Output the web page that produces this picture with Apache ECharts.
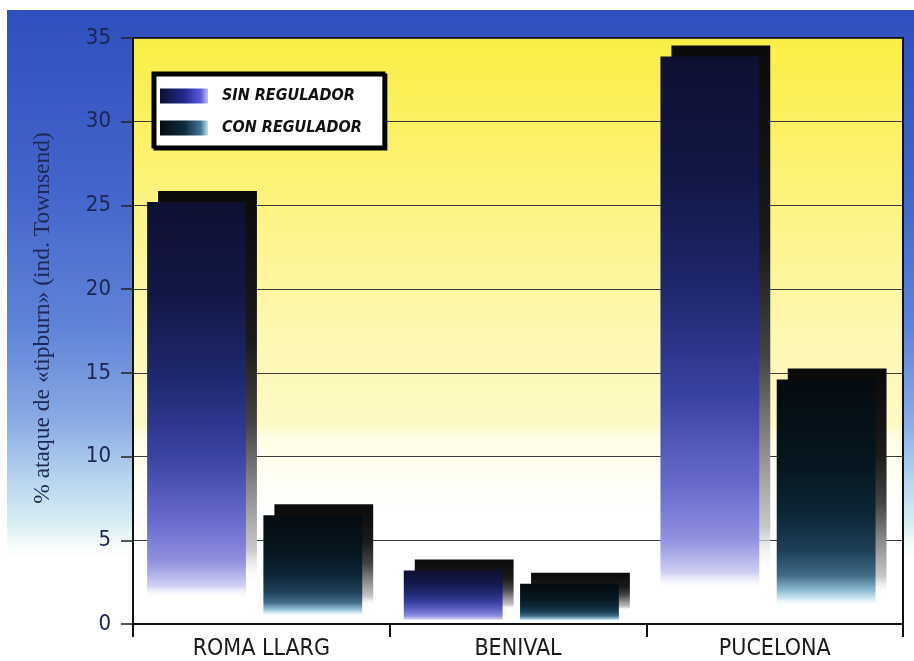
<!DOCTYPE html>
<html>
<head>
<meta charset="utf-8">
<script src="https://cdn.jsdelivr.net/npm/echarts@6/dist/echarts.min.js"></script>
<style>
  html, body { margin: 0; padding: 0; background: #ffffff; }
  #chart { width: 914px; height: 661px; }
</style>
</head>
<body>
<div id="chart"></div>
<script>
// Tipburn attack (Townsend index) per lettuce variety, with and without regulator
const categories = ['ROMA LLARG', 'BENIVAL', 'PUCELONA'];
const sinRegulador = [25.2, 3.2, 33.9];
const conRegulador = [6.5, 2.4, 14.6];
const yMin = 0;
const yMax = 35;
const yInterval = 5;

const NARROW = '"Liberation Sans Narrow", "Arial Narrow", "DejaVu Sans Condensed", sans-serif';
const SERIF = '"Liberation Serif", "Times New Roman", "DejaVu Serif", serif';

// bar geometry, as fractions of the category band
const FACE_W = 0.385;
const SLOT_SIN = 0.055;
const SLOT_CON = 0.508;
const DEPTH = 11; // pixel offset of the back face

const sinFace = [
  [0, '#0e1032'], [0.22, '#121846'], [0.42, '#1f2870'], [0.6, '#3a42a2'],
  [0.76, '#6a6ccc'], [0.85, '#9090e0'], [0.91, '#d0d0f4'], [0.94, 'rgba(255,255,255,0)'], [1, 'rgba(255,255,255,0)']
];
const conFace = [
  [0, '#050b10'], [0.35, '#061620'], [0.55, '#0c2636'], [0.7, '#1e4058'],
  [0.8, '#3f6a86'], [0.86, '#8ab8d0'], [0.9, '#d8eef6'], [0.93, 'rgba(255,255,255,0)'], [1, 'rgba(255,255,255,0)']
];
const backFace = [
  [0, '#0a0a0a'], [0.35, '#1a1a1a'], [0.55, '#444444'], [0.7, '#888888'],
  [0.85, '#c8c8c8'], [0.93, 'rgba(255,255,255,0)'], [1, 'rgba(255,255,255,0)']
];

function vGrad(stops) {
  return new echarts.graphic.LinearGradient(0, 0, 0, 1,
    stops.map(function (s) { return { offset: s[0], color: s[1] }; }));
}

function barRenderer(slot, faceStops) {
  return function (params, api) {
    const ci = api.value(0);
    const v = api.value(1);
    const band = api.size([1, 0])[0];
    const basePt = api.coord([ci, 0]);
    const topPt = api.coord([ci, v]);
    const x0 = basePt[0] - band / 2 + band * slot;
    const w = band * FACE_W;
    const h = basePt[1] - topPt[1];
    return {
      type: 'group',
      children: [
        {
          type: 'rect',
          shape: { x: x0 + DEPTH, y: topPt[1] - DEPTH, width: w, height: h },
          style: { fill: vGrad(backFace) }
        },
        {
          type: 'rect',
          shape: { x: x0, y: topPt[1], width: w, height: h },
          style: { fill: vGrad(faceStops) }
        }
      ]
    };
  };
}

function toPoints(values) {
  return values.map(function (v, i) { return [i, v]; });
}

const chart = echarts.init(document.getElementById('chart'), null, { renderer: 'canvas' });

chart.setOption({
  animation: false,
  backgroundColor: '#ffffff',
  graphic: [{
    type: 'rect',
    z: -10,
    silent: true,
    shape: { x: 7, y: 10, width: 907, height: 651 },
    style: {
      fill: new echarts.graphic.LinearGradient(0, 0, 0, 1, [
        { offset: 0, color: '#2f4fbe' },
        { offset: 0.29, color: '#4566cc' },
        { offset: 0.49, color: '#6084d8' },
        { offset: 0.63, color: '#8aaae4' },
        { offset: 0.72, color: '#b6d4ee' },
        { offset: 0.79, color: '#d8eff2' },
        { offset: 0.82, color: '#f4fbfb' },
        { offset: 0.84, color: '#ffffff' },
        { offset: 1, color: '#ffffff' }
      ])
    }
  }],
  grid: {
    left: 133, right: 11, top: 38, bottom: 34,
    show: true,
    borderColor: '#111111',
    borderWidth: 2,
    backgroundColor: new echarts.graphic.LinearGradient(0, 0, 0, 1, [
      { offset: 0, color: '#faee45' },
      { offset: 0.15, color: '#fcf162' },
      { offset: 0.35, color: '#fdf590' },
      { offset: 0.5, color: '#fdf8b0' },
      { offset: 0.66, color: '#fdf9c4' },
      { offset: 0.68, color: '#fefde4' },
      { offset: 0.8, color: '#ffffff' },
      { offset: 1, color: '#ffffff' }
    ])
  },
  legend: {
    orient: 'vertical',
    left: 153,
    top: 73,
    padding: [15, 22, 11, 7],
    itemGap: 16,
    itemWidth: 48,
    itemHeight: 15,
    icon: 'rect',
    backgroundColor: '#ffffff',
    borderColor: '#000000',
    borderWidth: 3,
    shadowColor: '#000000',
    shadowBlur: 0,
    shadowOffsetX: 2,
    shadowOffsetY: 2,
    selectedMode: false,
    textStyle: {
      fontFamily: NARROW,
      fontStyle: 'italic',
      fontWeight: 'bold',
      fontSize: 16,
      color: '#111111',
      padding: [0, 0, 0, 9]
    },
    data: ['SIN REGULADOR', 'CON REGULADOR']
  },
  xAxis: {
    type: 'category',
    data: categories,
    boundaryGap: true,
    axisLine: { show: true, lineStyle: { color: '#111111', width: 2 } },
    axisTick: { show: true, interval: 0, length: 13, lineStyle: { color: '#111111', width: 2 } },
    axisLabel: { margin: 14, fontFamily: NARROW, fontSize: 23, color: '#1a1a1a' },
    splitLine: { show: false }
  },
  yAxis: {
    type: 'value',
    min: yMin,
    max: yMax,
    interval: yInterval,
    name: '% ataque de «tipburn» (ind. Townsend)',
    nameLocation: 'middle',
    nameGap: 78,
    nameTextStyle: { fontFamily: SERIF, fontSize: 23.5, color: '#1c2855', padding: [0, 0, 0, 26] },
    axisLine: { show: true, lineStyle: { color: '#111111', width: 2 } },
    axisTick: { show: true, length: 12, lineStyle: { color: '#222222', width: 1.5 } },
    axisLabel: { margin: 22, fontFamily: NARROW, fontSize: 22, color: '#1c2450' },
    splitLine: { show: true, lineStyle: { color: '#3a3a3a', width: 1 } }
  },
  series: [
    {
      name: 'SIN REGULADOR',
      type: 'custom',
      renderItem: barRenderer(SLOT_SIN, sinFace),
      encode: { x: 0, y: 1 },
      itemStyle: {
        color: new echarts.graphic.LinearGradient(0, 0, 1, 0, [
          { offset: 0, color: '#0c0e30' }, { offset: 0.5, color: '#22288a' },
          { offset: 0.85, color: '#5a5ae0' }, { offset: 1, color: '#c0c0f4' }
        ])
      },
      data: toPoints(sinRegulador)
    },
    {
      name: 'CON REGULADOR',
      type: 'custom',
      renderItem: barRenderer(SLOT_CON, conFace),
      encode: { x: 0, y: 1 },
      itemStyle: {
        color: new echarts.graphic.LinearGradient(0, 0, 1, 0, [
          { offset: 0, color: '#050c14' }, { offset: 0.5, color: '#0e2a3c' },
          { offset: 0.85, color: '#3e7896' }, { offset: 1, color: '#c4e4f0' }
        ])
      },
      data: toPoints(conRegulador)
    }
  ]
});
</script>
</body>
</html>
